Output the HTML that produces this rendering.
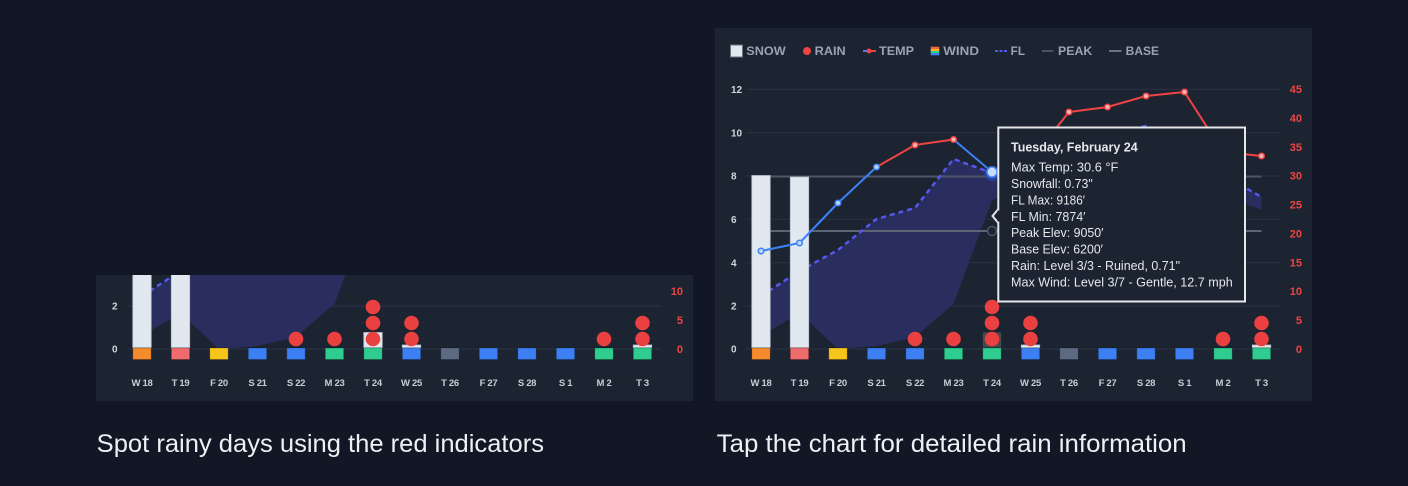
<!DOCTYPE html>
<html><head><meta charset="utf-8">
<style>
html,body{margin:0;padding:0;background:#121725;}
svg{display:block;}
text{font-family:"Liberation Sans",Arial,sans-serif;}
.ax{font-size:10px;font-weight:bold;fill:#d1d5db;}
.ar{font-size:11px;font-weight:bold;fill:#ef4444;text-anchor:end;}
.xl{font-size:9.5px;font-weight:bold;fill:#c8cdd5;text-anchor:middle;letter-spacing:-0.3px;}
.lg{font-size:11.5px;font-weight:bold;fill:#9aa3b2;}
.tt{font-size:12.5px;fill:#e5e7eb;}
.cap{font-size:25px;fill:#eef0f3;}
</style></head><body>
<svg width="1408" height="486" viewBox="0 0 1408 486" xmlns="http://www.w3.org/2000/svg">
<defs>
<clipPath id="cl"><rect x="96" y="275" width="597" height="126"/></clipPath>
<clipPath id="cr"><rect x="715" y="28" width="597" height="373"/></clipPath>
<linearGradient id="wg" x1="0" y1="0" x2="0" y2="1">
<stop offset="0" stop-color="#f0643c"/><stop offset="0.25" stop-color="#f0643c"/>
<stop offset="0.25" stop-color="#f5b623"/><stop offset="0.5" stop-color="#f5b623"/>
<stop offset="0.5" stop-color="#2ecc8e"/><stop offset="0.75" stop-color="#2ecc8e"/>
<stop offset="0.75" stop-color="#3b7ff2"/><stop offset="1" stop-color="#3b7ff2"/>
</linearGradient>
</defs>
<rect width="1408" height="486" fill="#121725"/>

<!-- ================= LEFT PANEL ================= -->
<rect x="96" y="275" width="597" height="126" fill="#1c2331"/>
<g clip-path="url(#cl)">
<line x1="127" x2="661" y1="306" y2="306" stroke="#2b3343" stroke-width="1"/>
<line x1="127" x2="661" y1="349" y2="349" stroke="#2b3343" stroke-width="1"/>
<polygon fill="#2a2e5e" points="142,296 180.5,271 219,250 257.5,219 296,208 334.5,159 373,173 411.5,150 450,140 488.5,133 527,126 565.5,138 604,175 642.5,197 642.5,210 604,195 565.5,172 527,165 488.5,170 450,178 411.5,188 373,200 334.5,304 296,337 257.5,346 219,349 180.5,313 142,336"/>
<polyline fill="none" stroke="#5558ee" stroke-width="2.5" stroke-dasharray="5,4" points="142,296 180.5,271 219,250 257.5,219 296,208 334.5,159 373,173"/>
<g fill="#e2e8f0" stroke="#b8c0cc" stroke-width="0.8">
<rect x="132.8" y="175.5" width="18.4" height="172"/>
<rect x="171.3" y="177" width="18.4" height="170.5"/>
<rect x="363.8" y="332.5" width="18.4" height="15"/>
<rect x="402.3" y="345" width="18.4" height="2.5"/>
<rect x="633.3" y="345" width="18.4" height="2.5"/>
</g>
<g stroke="rgba(0,0,0,0.25)" stroke-width="0.8">
<rect x="132.8" y="348" width="18.4" height="11.5" fill="#f58b2c"/>
<rect x="171.3" y="348" width="18.4" height="11.5" fill="#f06b6b"/>
<rect x="209.8" y="348" width="18.4" height="11.5" fill="#f7c41b"/>
<rect x="248.3" y="348" width="18.4" height="11.5" fill="#3b7ff2"/>
<rect x="286.8" y="348" width="18.4" height="11.5" fill="#3b7ff2"/>
<rect x="325.3" y="348" width="18.4" height="11.5" fill="#2ecc8e"/>
<rect x="363.8" y="348" width="18.4" height="11.5" fill="#2ecc8e"/>
<rect x="402.3" y="348" width="18.4" height="11.5" fill="#3b7ff2"/>
<rect x="440.8" y="348" width="18.4" height="11.5" fill="#5d6b82"/>
<rect x="479.3" y="348" width="18.4" height="11.5" fill="#3b7ff2"/>
<rect x="517.8" y="348" width="18.4" height="11.5" fill="#3b7ff2"/>
<rect x="556.3" y="348" width="18.4" height="11.5" fill="#3b7ff2"/>
<rect x="594.8" y="348" width="18.4" height="11.5" fill="#2ecc8e"/>
<rect x="633.3" y="348" width="18.4" height="11.5" fill="#2ecc8e"/>
</g>
<g fill="#eb4040">
<circle cx="296" cy="339" r="7.3"/>
<circle cx="334.5" cy="339" r="7.3"/>
<circle cx="373" cy="339" r="7.3"/><circle cx="373" cy="323" r="7.3"/><circle cx="373" cy="307" r="7.3"/>
<circle cx="411.5" cy="339" r="7.3"/><circle cx="411.5" cy="323" r="7.3"/>
<circle cx="604" cy="339" r="7.3"/>
<circle cx="642.5" cy="339" r="7.3"/><circle cx="642.5" cy="323" r="7.3"/>
</g>
<text class="ax" x="112" y="309.5">2</text>
<text class="ax" x="112" y="352.5">0</text>
<text class="ar" x="683" y="295">10</text>
<text class="ar" x="683" y="324">5</text>
<text class="ar" x="683" y="353">0</text>
<g class="xl">
<text x="142" y="386">W 18</text><text x="180.5" y="386">T 19</text><text x="219" y="386">F 20</text>
<text x="257.5" y="386">S 21</text><text x="296" y="386">S 22</text><text x="334.5" y="386">M 23</text>
<text x="373" y="386">T 24</text><text x="411.5" y="386">W 25</text><text x="450" y="386">T 26</text>
<text x="488.5" y="386">F 27</text><text x="527" y="386">S 28</text><text x="565.5" y="386">S 1</text>
<text x="604" y="386">M 2</text><text x="642.5" y="386">T 3</text>
</g>
</g>

<!-- ================= RIGHT PANEL ================= -->
<rect x="715" y="28" width="597" height="373" fill="#1c2331"/>
<g clip-path="url(#cr)">
<g stroke="#2b3343" stroke-width="1">
<line x1="746" x2="1280" y1="89.3" y2="89.3"/>
<line x1="746" x2="1280" y1="132.7" y2="132.7"/>
<line x1="746" x2="1280" y1="176" y2="176"/>
<line x1="746" x2="1280" y1="219.3" y2="219.3"/>
<line x1="746" x2="1280" y1="262.7" y2="262.7"/>
<line x1="746" x2="1280" y1="306" y2="306"/>
<line x1="746" x2="1280" y1="349" y2="349"/>
</g>
<polygon fill="#2a2e5e" points="761,296 799.5,271 838,250 876.5,219 915,208 953.5,159 992,173 1030.5,150 1069,140 1107.5,133 1146,126 1184.5,138 1223,175 1261.5,197 1261.5,210 1223,195 1184.5,172 1146,165 1107.5,170 1069,178 1030.5,188 992,200 953.5,304 915,337 876.5,346 838,349 799.5,313 761,336"/>
<line x1="761" x2="1261.5" y1="176.5" y2="176.5" stroke="#4f5665" stroke-width="2"/>
<line x1="761" x2="1261.5" y1="231" y2="231" stroke="#5d6575" stroke-width="2"/>
<circle cx="992" cy="231" r="4.5" fill="#1c2331" stroke="#4b5563" stroke-width="1.5"/>
<polyline fill="none" stroke="#5558ee" stroke-width="2.5" stroke-dasharray="5,4" points="761,296 799.5,271 838,250 876.5,219 915,208 953.5,159 992,173 1030.5,150 1069,140 1107.5,133 1146,126 1184.5,138 1223,175 1261.5,197"/>
<g fill="#e2e8f0" stroke="#b8c0cc" stroke-width="0.8">
<rect x="751.8" y="175.5" width="18.4" height="172"/>
<rect x="790.3" y="177" width="18.4" height="170.5"/>
<rect x="1021.3" y="345" width="18.4" height="2.5"/>
<rect x="1252.3" y="345" width="18.4" height="2.5"/>
</g>
<rect x="982.8" y="332.5" width="18.4" height="15" fill="#45484f"/>
<g stroke="rgba(0,0,0,0.25)" stroke-width="0.8">
<rect x="751.8" y="348" width="18.4" height="11.5" fill="#f58b2c"/>
<rect x="790.3" y="348" width="18.4" height="11.5" fill="#f06b6b"/>
<rect x="828.8" y="348" width="18.4" height="11.5" fill="#f7c41b"/>
<rect x="867.3" y="348" width="18.4" height="11.5" fill="#3b7ff2"/>
<rect x="905.8" y="348" width="18.4" height="11.5" fill="#3b7ff2"/>
<rect x="944.3" y="348" width="18.4" height="11.5" fill="#2ecc8e"/>
<rect x="982.8" y="348" width="18.4" height="11.5" fill="#2ecc8e"/>
<rect x="1021.3" y="348" width="18.4" height="11.5" fill="#3b7ff2"/>
<rect x="1059.8" y="348" width="18.4" height="11.5" fill="#5d6b82"/>
<rect x="1098.3" y="348" width="18.4" height="11.5" fill="#3b7ff2"/>
<rect x="1136.8" y="348" width="18.4" height="11.5" fill="#3b7ff2"/>
<rect x="1175.3" y="348" width="18.4" height="11.5" fill="#3b7ff2"/>
<rect x="1213.8" y="348" width="18.4" height="11.5" fill="#2ecc8e"/>
<rect x="1252.3" y="348" width="18.4" height="11.5" fill="#2ecc8e"/>
</g>
<g fill="#eb4040">
<circle cx="915" cy="339" r="7.3"/>
<circle cx="953.5" cy="339" r="7.3"/>
<circle cx="992" cy="339" r="7.3"/><circle cx="992" cy="323" r="7.3"/><circle cx="992" cy="307" r="7.3"/>
<circle cx="1030.5" cy="339" r="7.3"/><circle cx="1030.5" cy="323" r="7.3"/>
<circle cx="1223" cy="339" r="7.3"/>
<circle cx="1261.5" cy="339" r="7.3"/><circle cx="1261.5" cy="323" r="7.3"/>
</g>
<g fill="none" stroke-width="2" stroke-linejoin="round">
<polyline stroke="#3b82f6" points="761,251 799.5,243 838,203 876.5,167"/>
<polyline stroke="#ef4444" points="876.5,167 915,145 953.5,139.5"/>
<polyline stroke="#3b82f6" points="953.5,139.5 992,172"/>
<polyline stroke="#ef4444" points="992,172 1030.5,160 1069,112 1107.5,107 1146,96 1184.5,92 1223,152 1261.5,156"/>
</g>
<g stroke="#3b82f6" stroke-width="1.5" fill="#bcd4fb">
<circle cx="761" cy="251" r="2.8"/><circle cx="799.5" cy="243" r="2.8"/>
<circle cx="838" cy="203" r="2.8"/><circle cx="876.5" cy="167" r="2.8"/>
</g>
<g stroke="#ef4444" stroke-width="1.5" fill="#fbb4b4">
<circle cx="915" cy="145" r="2.8"/><circle cx="953.5" cy="139.5" r="2.8"/>
<circle cx="1030.5" cy="160" r="2.8"/><circle cx="1069" cy="112" r="2.8"/>
<circle cx="1107.5" cy="107" r="2.8"/><circle cx="1146" cy="96" r="2.8"/>
<circle cx="1184.5" cy="92" r="2.8"/><circle cx="1223" cy="152" r="2.8"/>
<circle cx="1261.5" cy="156" r="2.8"/>
</g>
<circle cx="992" cy="173.5" r="7.5" fill="#2747b8" opacity="0.8"/>
<circle cx="992" cy="172" r="5" fill="#c7dbfb" stroke="#4d8af5" stroke-width="1.5"/>
<g class="ax">
<text x="731" y="93">12</text><text x="731" y="136.3">10</text><text x="731" y="179.6">8</text>
<text x="731" y="222.9">6</text><text x="731" y="266.3">4</text><text x="731" y="309.5">2</text>
<text x="731" y="352.5">0</text>
</g>
<text class="ar" x="1302" y="93">45</text>
<text class="ar" x="1302" y="121.9">40</text>
<text class="ar" x="1302" y="150.8">35</text>
<text class="ar" x="1302" y="179.7">30</text>
<text class="ar" x="1302" y="208.6">25</text>
<text class="ar" x="1302" y="237.4">20</text>
<text class="ar" x="1302" y="266.3">15</text>
<text class="ar" x="1302" y="295.2">10</text>
<text class="ar" x="1302" y="324.1">5</text>
<text class="ar" x="1302" y="353">0</text>
<g class="xl">
<text x="761" y="386">W 18</text><text x="799.5" y="386">T 19</text><text x="838" y="386">F 20</text>
<text x="876.5" y="386">S 21</text><text x="915" y="386">S 22</text><text x="953.5" y="386">M 23</text>
<text x="992" y="386">T 24</text><text x="1030.5" y="386">W 25</text><text x="1069" y="386">T 26</text>
<text x="1107.5" y="386">F 27</text><text x="1146" y="386">S 28</text><text x="1184.5" y="386">S 1</text>
<text x="1223" y="386">M 2</text><text x="1261.5" y="386">T 3</text>
</g>
<rect x="730.5" y="45" width="12" height="12" fill="#e2e8f0" stroke="#6b7280" stroke-width="1"/>
<text class="lg" x="746.3" y="55" textLength="39.4" lengthAdjust="spacingAndGlyphs">SNOW</text>
<circle cx="807" cy="51" r="4" fill="#ef4444"/>
<text class="lg" x="814.7" y="55" textLength="31" lengthAdjust="spacingAndGlyphs">RAIN</text>
<line x1="863" x2="869" y1="51" y2="51" stroke="#3b82f6" stroke-width="2"/>
<line x1="869" x2="876" y1="51" y2="51" stroke="#ef4444" stroke-width="2"/>
<circle cx="869" cy="51" r="2.5" fill="#ef4444"/>
<text class="lg" x="879" y="55" textLength="35" lengthAdjust="spacingAndGlyphs">TEMP</text>
<rect x="930.7" y="46.7" width="8.6" height="8.6" fill="url(#wg)"/>
<text class="lg" x="943.3" y="55" textLength="35.7" lengthAdjust="spacingAndGlyphs">WIND</text>
<line x1="995" x2="1007" y1="51" y2="51" stroke="#5558ee" stroke-width="2" stroke-dasharray="3,1.5"/>
<text class="lg" x="1010.7" y="55" textLength="14.3" lengthAdjust="spacingAndGlyphs">FL</text>
<line x1="1042" x2="1053.5" y1="51" y2="51" stroke="#4b5260" stroke-width="2"/>
<text class="lg" x="1058" y="55" textLength="34.3" lengthAdjust="spacingAndGlyphs">PEAK</text>
<line x1="1109" x2="1121.5" y1="51" y2="51" stroke="#6b7383" stroke-width="2"/>
<text class="lg" x="1125.7" y="55" textLength="33.3" lengthAdjust="spacingAndGlyphs">BASE</text>
<rect x="998.3" y="127.5" width="246.7" height="174" fill="#1c2331" stroke="#e5e7eb" stroke-width="2"/>
<polyline points="998.3,209 992.5,216 998.3,223" fill="#1c2331" stroke="#e5e7eb" stroke-width="2"/>
<rect x="997.5" y="210.5" width="3" height="11" fill="#1c2331"/>
<text class="tt" x="1011" y="151.7" font-weight="bold" fill="#f3f4f6" textLength="126.7" lengthAdjust="spacingAndGlyphs">Tuesday, February 24</text>
<text class="tt" x="1011" y="171.7" textLength="107.3" lengthAdjust="spacingAndGlyphs">Max Temp: 30.6 °F</text>
<text class="tt" x="1011" y="188" textLength="81.7" lengthAdjust="spacingAndGlyphs">Snowfall: 0.73"</text>
<text class="tt" x="1011" y="204.4" textLength="74" lengthAdjust="spacingAndGlyphs">FL Max: 9186′</text>
<text class="tt" x="1011" y="220.8" textLength="74.5" lengthAdjust="spacingAndGlyphs">FL Min: 7874′</text>
<text class="tt" x="1011" y="237.2" textLength="92.5" lengthAdjust="spacingAndGlyphs">Peak Elev: 9050′</text>
<text class="tt" x="1011" y="253.6" textLength="92" lengthAdjust="spacingAndGlyphs">Base Elev: 6200′</text>
<text class="tt" x="1011" y="270" textLength="169" lengthAdjust="spacingAndGlyphs">Rain: Level 3/3 - Ruined, 0.71"</text>
<text class="tt" x="1011" y="286.5" textLength="221.7" lengthAdjust="spacingAndGlyphs">Max Wind: Level 3/7 - Gentle, 12.7 mph</text>
</g>

<text class="cap" x="96.7" y="452" textLength="447.3" lengthAdjust="spacingAndGlyphs">Spot rainy days using the red indicators</text>
<text class="cap" x="716.7" y="452" textLength="470" lengthAdjust="spacingAndGlyphs">Tap the chart for detailed rain information</text>
</svg>
</body></html>
